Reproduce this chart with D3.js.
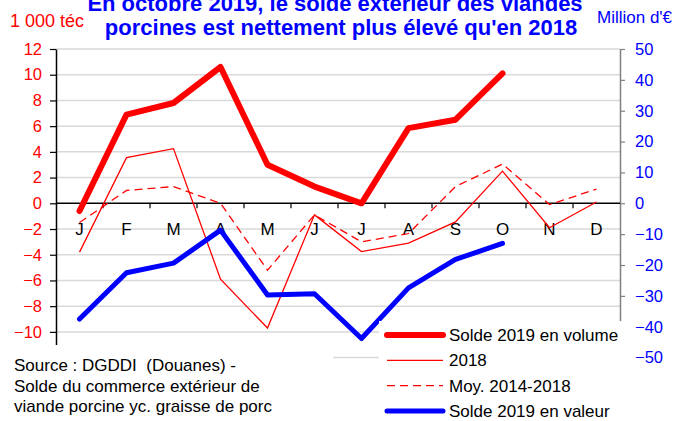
<!DOCTYPE html>
<html>
<head>
<meta charset="utf-8">
<script src="https://cdn.jsdelivr.net/npm/d3@7"></script>
<style>
  html, body { margin: 0; padding: 0; background: #fff; }
  svg { display: block; font-family: "Liberation Sans", Arial, sans-serif; }
</style>
</head>
<body>
<svg id="chart" width="684" height="421"></svg>
<script>
// Months (index 0..11) and their labels
const months = d3.range(12);
const monthLabels = ["J", "F", "M", "A", "M", "J", "J", "A", "S", "O", "N", "D"];

// Left axis series (1 000 téc)
const volume2019 = [-0.6, 6.9, 7.8, 10.6, 3.0, 1.3, 0.0, 5.85, 6.5, 10.1];
const volume2018 = [-3.8, 3.55, 4.25, -5.9, -9.7, -0.9, -3.75, -3.1, -1.45, 2.5, -1.9, 0.1];
const moy20142018 = [-1.5, 1.0, 1.3, 0.0, -5.2, -0.9, -3.0, -2.35, 1.3, 3.05, -0.1, 1.1];

// Right axis series (Million d'€)
const valeur2019 = [-37.5, -22.5, -19.4, -8.7, -29.7, -29.3, -43.8, -27.4, -18.2, -13.0];

// Ticks
const leftTicks = d3.range(-10, 13, 2);
const gridTicks = d3.range(-12, 13, 2);
const rightTicks = d3.range(-50, 51, 10);

const svg = d3.select("#chart");

// Plot area
const plotLeft = 56, plotRight = 620, plotTop = 49, plotBottom = 357.6;

const x = d3.scaleBand().domain(months).range([plotLeft, plotRight]);
const yLeft = d3.scaleLinear().domain([-12, 12]).range([plotBottom, plotTop]);
const yRight = d3.scaleLinear().domain([-50, 50]).range([plotBottom, plotTop]);
const cx = i => x(i) + x.bandwidth() / 2;

// Gridlines
svg.selectAll(".grid")
    .data(gridTicks.filter(d => d !== 0))
    .enter().append("line")
    .attr("x1", plotLeft).attr("x2", plotRight)
    .attr("y1", d => yLeft(d)).attr("y2", d => yLeft(d))
    .attr("stroke", "#d9d9d9")
    .attr("stroke-width", 1.5);

// Left axis
const leftAxis = svg.append("g")
    .attr("transform", `translate(${plotLeft},0)`)
    .call(d3.axisLeft(yLeft).tickValues(leftTicks).tickSize(6).tickPadding(8).tickSizeOuter(0));
leftAxis.select(".domain").attr("stroke", "#000").attr("stroke-width", 1.5);
leftAxis.selectAll(".tick line").attr("stroke", "#000").attr("stroke-width", 1.2);
leftAxis.selectAll("text").attr("fill", "#ff0000").style("font-size", "16.5px")
    .style("font-family", "'Liberation Sans', Arial, sans-serif");

// Right axis
const rightAxis = svg.append("g")
    .attr("transform", `translate(${plotRight},0)`)
    .call(d3.axisRight(yRight).tickValues(rightTicks).tickSize(5).tickPadding(10).tickSizeOuter(0));
rightAxis.select(".domain").attr("stroke", "#808080").attr("stroke-width", 1.5);
rightAxis.selectAll(".tick line").attr("stroke", "#808080").attr("stroke-width", 1.2);
rightAxis.selectAll("text").attr("fill", "#0000ff").style("font-size", "16.5px")
    .style("font-family", "'Liberation Sans', Arial, sans-serif");

// X axis at zero, ticks between months
const y0 = yLeft(0);
svg.append("line")
    .attr("x1", plotLeft).attr("x2", plotRight)
    .attr("y1", y0).attr("y2", y0)
    .attr("stroke", "#000").attr("stroke-width", 1.5);
svg.selectAll(".xtick")
    .data(months.slice(1))
    .enter().append("line")
    .attr("x1", d => x(d)).attr("x2", d => x(d))
    .attr("y1", y0).attr("y2", y0 + 5)
    .attr("stroke", "#000").attr("stroke-width", 1.2);
svg.selectAll(".xlabel")
    .data(months)
    .enter().append("text")
    .attr("x", d => cx(d))
    .attr("y", y0 + 32)
    .attr("text-anchor", "middle")
    .style("font-size", "17px")
    .attr("fill", "#000")
    .text(d => monthLabels[d]);

// Lines
const lineLeft = d3.line().x((d, i) => cx(i)).y(d => yLeft(d));
const lineRight = d3.line().x((d, i) => cx(i)).y(d => yRight(d));

svg.append("path").datum(volume2018)
    .attr("d", lineLeft)
    .attr("fill", "none").attr("stroke", "#ff0000").attr("stroke-width", 1.3);

svg.append("path").datum(moy20142018)
    .attr("d", lineLeft)
    .attr("fill", "none").attr("stroke", "#ff0000").attr("stroke-width", 1.3)
    .attr("stroke-dasharray", "8,5");

svg.append("path").datum(volume2019)
    .attr("d", lineLeft)
    .attr("fill", "none").attr("stroke", "#ff0000").attr("stroke-width", 6)
    .attr("stroke-linecap", "round").attr("stroke-linejoin", "round");

svg.append("path").datum(valeur2019)
    .attr("d", lineRight)
    .attr("fill", "none").attr("stroke", "#0000ff").attr("stroke-width", 5)
    .attr("stroke-linecap", "round").attr("stroke-linejoin", "round");

// Boxes for source and legend (they cover the lower part of the plot)
svg.append("rect").attr("x", 0).attr("y", 345).attr("width", 333).attr("height", 76).attr("fill", "#fff");
svg.append("rect").attr("x", 379).attr("y", 321).attr("width", 247).attr("height", 100).attr("fill", "#fff");

// Source
const sourceLines = ["Source : DGDDI  (Douanes) -", "Solde du commerce extérieur de", "viande porcine yc. graisse de porc"];
svg.selectAll(".source")
    .data(sourceLines)
    .enter().append("text")
    .attr("x", 14)
    .attr("y", (d, i) => 371 + i * 20.7)
    .style("font-size", "17px")
    .style("white-space", "pre")
    .attr("fill", "#000")
    .text(d => d);

// Legend
const legendItems = [
  { label: "Solde 2019 en volume", color: "#ff0000", width: 6, dash: null },
  { label: "2018", color: "#ff0000", width: 1.3, dash: null },
  { label: "Moy. 2014-2018", color: "#ff0000", width: 1.3, dash: "8,5" },
  { label: "Solde 2019 en valeur", color: "#0000ff", width: 5, dash: null }
];
const legend = svg.selectAll(".legend")
    .data(legendItems)
    .enter().append("g")
    .attr("transform", (d, i) => `translate(387,${335 + i * 25.3})`);
legend.append("line")
    .attr("x1", 0).attr("x2", 56)
    .attr("stroke", d => d.color)
    .attr("stroke-width", d => d.width)
    .attr("stroke-dasharray", d => d.dash)
    .attr("stroke-linecap", d => d.width > 3 ? "round" : "butt");
legend.append("text")
    .attr("x", 62).attr("y", 6)
    .style("font-size", "17px")
    .attr("fill", "#000")
    .text(d => d.label);

// Titles and axis units
svg.append("text").attr("x", 335).attr("y", 11).attr("text-anchor", "middle")
    .style("font-size", "22px").style("font-weight", "bold").attr("fill", "#0000ff")
    .text("En octobre 2019, le solde extérieur des viandes");
svg.append("text").attr("x", 341).attr("y", 35).attr("text-anchor", "middle")
    .style("font-size", "22px").style("font-weight", "bold").attr("fill", "#0000ff")
    .text("porcines est nettement plus élevé qu'en 2018");
svg.append("text").attr("x", 10).attr("y", 27)
    .style("font-size", "18px").attr("fill", "#ff0000")
    .text("1 000 téc");
svg.append("text").attr("x", 597).attr("y", 23)
    .style("font-size", "17px").attr("fill", "#0000ff")
    .text("Million d'€");
</script>
</body>
</html>
